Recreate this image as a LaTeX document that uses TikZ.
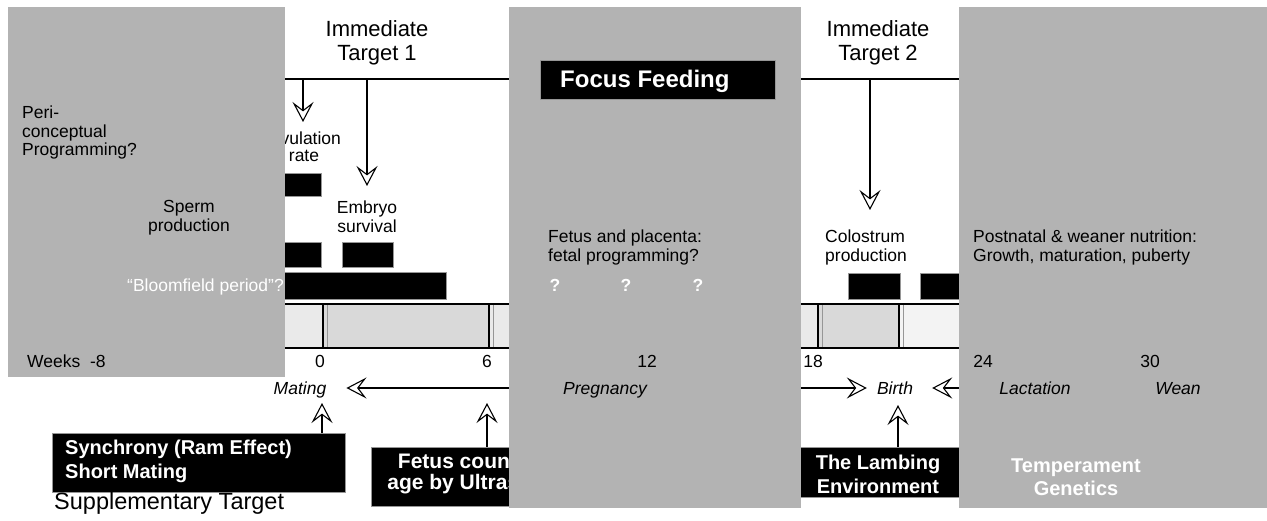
\documentclass[tikz,border=0pt]{standalone}
\usepackage{fontspec}
\setmainfont{Liberation Sans}
\usetikzlibrary{arrows.meta}
\pgfdeclarelayer{panel}
\pgfdeclarelayer{over}
\pgfsetlayers{main,panel,over}
\definecolor{panelgray}{RGB}{179,179,179}
\definecolor{bandlight}{RGB}{234,234,234}
\definecolor{banddark}{RGB}{217,217,217}
\definecolor{bandpale}{RGB}{243,243,243}
\definecolor{barline}{RGB}{150,150,150}
\tikzset{
  txt/.style={inner sep=0pt, font=\fontsize{17.5}{19}\selectfont},
  itx/.style={inner sep=0pt, font=\itshape\fontsize{17.5}{19}\selectfont, text height=13pt, text depth=0pt},
  ttl/.style={inner sep=0pt, align=center, font=\fontsize{22}{24}\selectfont},
  wtxt/.style={inner sep=0pt, text=white, font=\bfseries\fontsize{20}{24}\selectfont},
  blkbox/.style={fill=black, draw=barline, line width=0.6pt, inner sep=0pt},
  bar/.style={fill=black, draw=barline, line width=0.6pt},
  conn/.style={line width=1.8pt, -{Stealth[length=20pt,width=21pt,inset=8pt,line width=1.1pt,fill=white]}},
}
\begin{document}
\begin{tikzpicture}[x=1pt,y=-1pt]
\useasboundingbox (0,0) rectangle (1267,521);
\fill[white] (0,0) rectangle (1267,521);

% ---- top line and downward arrows
\coordinate (tl) at (270,79);
\coordinate (tr) at (975,79);
\draw[line width=2pt] (tl) -- (tr);
\coordinate (ovtip) at (303,122);
\coordinate (embtip) at (367,186);
\coordinate (coltip) at (870,210);
\draw[conn] (ovtip |- tl) -- (ovtip);
\draw[conn] (embtip |- tl) -- (embtip);
\draw[conn] (coltip |- tl) -- (coltip);

\node[ttl, anchor=north] (imm1) at (377,20) {Immediate\\Target 1};
\node[ttl, anchor=north] (imm2) at (878,20) {Immediate\\Target 2};
\node[txt, align=center, anchor=north, font=\fontsize{17.5}{17}\selectfont] (ovu) at (304,132) {Ovulation\\rate};
\node[txt, align=center, anchor=north] (emb) at (367,201) {Embryo\\survival};
\node[txt, align=left, anchor=north west] (colo) at (825,230) {Colostrum\\production};

% ---- black bars
\draw[bar] (270,173) rectangle (321,196);
\draw[bar] (270,242) rectangle (321,267);
\draw[bar] (342,242) rectangle (393,267);
\draw[bar] (270,272) rectangle (446,299);
\draw[bar] (848,273) rectangle (900,299);
\draw[bar] (920,273) rectangle (975,299);

% ---- time band
\fill[bandlight] (270,304) rectangle (975,348);
\fill[banddark] (323,304) rectangle (489,348);
\fill[banddark] (818,304) rectangle (899,348);
\fill[bandpale] (899,304) rectangle (975,348);
\draw[barline, line width=1pt] (327,304) -- (327,348) (493,304) -- (493,348)
  (822,304) -- (822,348) (903,304) -- (903,348);
\draw[line width=1.2pt] (323,304) -- (323,348) (489,304) -- (489,348)
  (818,304) -- (818,348) (899,304) -- (899,348);
\draw[line width=1.2pt] (270,304) -- (975,304) (270,348) -- (975,348);

\node[txt, anchor=base] (n0) at (320,367) {0};
\node[txt, anchor=base] (n6) at (487,367) {6};
\node[txt, anchor=base] (n18) at (813,367) {18};

% ---- stage labels
\node[itx, anchor=center] (mating) at (300,388) {Mating};
\node[itx, anchor=center] (birth) at (895,388) {Birth};

% ---- boxes
\node[blkbox, minimum width=293pt, minimum height=59pt] (synbox) at (198.5,462.5) {};
\node[wtxt, align=left, anchor=north west] (syntxt) at (65,439.5) {Synchrony (Ram Effect)\\Short Mating};
\node[blkbox, minimum width=214pt, minimum height=59pt] (fetbox) at (478,476.5) {};
\node[wtxt, align=center, anchor=north, font=\bfseries\fontsize{21}{21}\selectfont] (fettxt) at (479,453) {Fetus count and\\age by Ultrasound};
\node[blkbox, minimum width=180pt, minimum height=50pt] (lambbox) at (880,472) {};
\node[wtxt, align=center, anchor=north, font=\bfseries\fontsize{20}{24.5}\selectfont] (lambtxt) at (878,454.5) {The Lambing\\Environment};
\node[inner sep=0pt, anchor=base west, font=\fontsize{23.5}{26}\selectfont] (supp) at (54,509) {Supplementary Target};

\coordinate (t0) at (322,403);
\coordinate (t6) at (487,403);
\coordinate (tb) at (898,405);
\draw[conn] (synbox.north -| t0) -- (t0);
\draw[conn] (fetbox.north -| t6) -- (t6);
\draw[conn] (lambbox.north -| tb) -- (tb);

% ---- grey panels
\begin{pgfonlayer}{panel}
\fill[panelgray] (8,7) rectangle (285,377);
\fill[panelgray] (509,7) rectangle (801,508);
\fill[panelgray] (959,7) rectangle (1267,508);
\end{pgfonlayer}

% ---- text over the panels
\begin{pgfonlayer}{over}
\node[txt, align=left, anchor=north west, font=\fontsize{17.5}{18.5}\selectfont] (peri) at (22,106) {Peri-\\conceptual\\Programming?};
\node[txt, align=center, anchor=north] (sperm) at (189,200) {Sperm\\production};
\node[txt, text=white, anchor=base east] (bloom) at (284,292) {“Bloomfield period”?};
\node[txt, anchor=base west] (weeks) at (27,367) {Weeks\ \ -8};
\node[blkbox, minimum width=235pt, minimum height=39pt, anchor=north west] (focusbox) at (540,60) {};
\node[inner sep=0pt, text=white, anchor=base west, font=\bfseries\fontsize{24}{28}\selectfont] (focustxt) at (560,88) {Focus Feeding};
\node[txt, align=left, anchor=north west] (fetal) at (548,230) {Fetus and placenta:\\fetal programming?};
\node[txt, text=white, font=\bfseries\fontsize{17.5}{19}\selectfont, anchor=base] (q1) at (555,292) {?};
\node[txt, text=white, font=\bfseries\fontsize{17.5}{19}\selectfont, anchor=base] (q2) at (626,292) {?};
\node[txt, text=white, font=\bfseries\fontsize{17.5}{19}\selectfont, anchor=base] (q3) at (698,292) {?};
\node[txt, anchor=base] (n12) at (647,367) {12};
\node[itx, anchor=center] (preg) at (605,388) {Pregnancy};
\node[txt, align=left, anchor=north west] (post) at (973,230) {Postnatal \& weaner nutrition:\\Growth, maturation, puberty};
\node[txt, anchor=base] (n24) at (983,367) {24};
\node[txt, anchor=base] (n30) at (1150,367) {30};
\node[itx, anchor=center] (lact) at (1035,388) {Lactation};
\node[itx, anchor=center] (wean) at (1178,388) {Wean};
\node[wtxt, align=center, anchor=north, font=\bfseries\fontsize{20}{23}\selectfont] (temp) at (1076,458.5) {Temperament\\Genetics};
\end{pgfonlayer}

% ---- horizontal arrows (main layer, below the panels)
\draw[conn, shorten >=20pt] (preg.west) -- (mating.east);
\draw[conn, shorten >=10pt] (preg.east) -- (birth.west);
\draw[conn, shorten >=19pt] (lact.west) -- (birth.east);
\end{tikzpicture}
\end{document}
